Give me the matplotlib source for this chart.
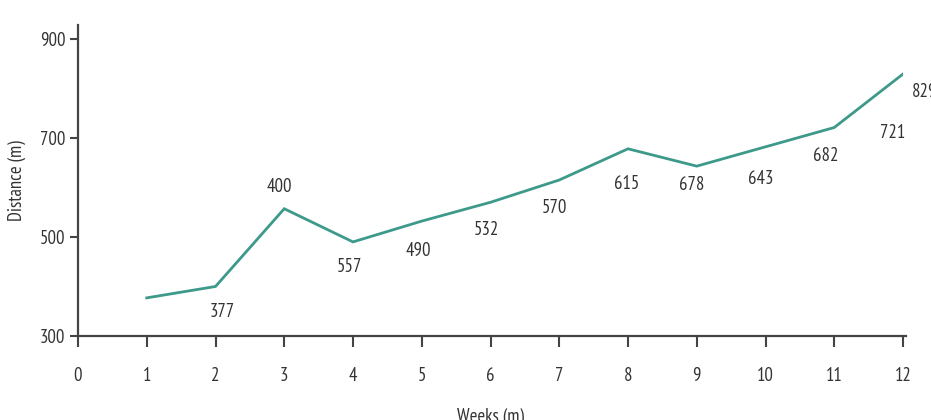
import matplotlib
matplotlib.use("Agg")
import matplotlib.pyplot as plt

weeks = [1, 2, 3, 4, 5, 6, 7, 8, 9, 10, 11, 12]
distance = [377, 400, 557, 490, 532, 570, 615, 678, 643, 682, 721, 829]
x_ticks = [0, 1, 2, 3, 4, 5, 6, 7, 8, 9, 10, 11, 12]
y_ticks = [300, 500, 700, 900]

# label placement: anchored on the following point, with pixel offsets (dx, dy up)
label_offsets = [(7, -26), (-5, 22), (-4, -25), (-3, -30), (-4, -28), (-5, -28),
                 (-1, -35), (-5, -19), (-5, -32), (-9, -28), (-10, -59), (22, -18)]

plt.rcParams['font.family'] = ['PT Sans Narrow', 'Roboto Condensed', 'DejaVu Sans']
text_color = '#333333'
line_color = '#3d9a8b'
fs = 13.5

fig = plt.figure(figsize=(9.31, 4.2), dpi=100)
ax = fig.add_axes([78/931, (420-336)/420, (903-78)/931, (336-25)/420])

ax.plot(weeks, distance, color=line_color, lw=2.0, solid_joinstyle='miter')

n = len(weeks)
for i, v in enumerate(distance):
    j = min(i + 1, n - 1)
    dx, dy = label_offsets[i]
    ax.annotate(str(v), xy=(weeks[j], distance[j]), xytext=(dx, dy),
                textcoords='offset pixels', ha='center', va='center',
                fontsize=fs, color=text_color)

ax.set_xlim(0, 12)
ax.set_ylim(300, 928)
ax.set_xticks(x_ticks)
ax.set_yticks(y_ticks)
ax.tick_params(axis='x', length=8, width=1.5, color='#444444', labelsize=fs,
               labelcolor=text_color, pad=14)
ax.tick_params(axis='y', length=6, width=1.5, color='#444444', labelsize=fs,
               labelcolor=text_color, pad=3)
for s in ['top', 'right']:
    ax.spines[s].set_visible(False)
for s in ['left', 'bottom']:
    ax.spines[s].set_color('#444444')
    ax.spines[s].set_linewidth(1.6)
ax.spines['bottom'].set_bounds(0, 12.05)

ax.set_ylabel('Distance (m)', fontsize=fs, color=text_color, labelpad=10)
ax.set_xlabel('Weeks (m)', fontsize=fs, color=text_color, labelpad=17)

fig.savefig('out.png', dpi=100)
